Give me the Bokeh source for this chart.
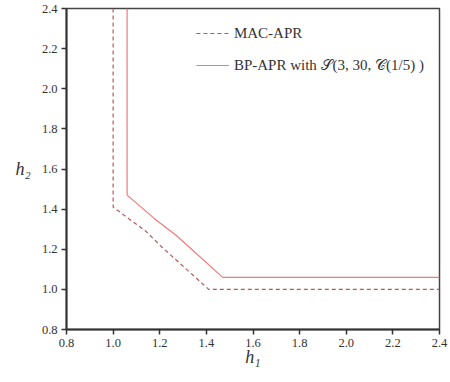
from bokeh.plotting import figure
from bokeh.models import Range1d, FixedTicker, Legend, LegendItem
from bokeh.embed import file_html
from bokeh.resources import INLINE

# Data
mac_h1 = [1.0, 1.0, 1.14, 1.21, 1.41, 2.4]
mac_h2 = [2.4, 1.41, 1.29, 1.21, 1.0, 1.0]
bp_h1 = [1.06, 1.06, 1.18, 1.27, 1.47, 2.4]
bp_h2 = [2.4, 1.47, 1.35, 1.27, 1.06, 1.06]
tick_vals = [0.8, 1.0, 1.2, 1.4, 1.6, 1.8, 2.0, 2.2, 2.4]
tick_labels = ["0.8", "1.0", "1.2", "1.4", "1.6", "1.8", "2.0", "2.2", "2.4"]
label_mac = "MAC-APR"
label_bp = "BP-APR with \U0001D4AE(3, 30, \U0001D49E(1/5) )"

FONT = "Liberation Serif"

p = figure(width=448, height=380, output_backend="svg", toolbar_location=None,
           x_range=Range1d(0.8, 2.4), y_range=Range1d(0.8, 2.4),
           min_border_left=66, min_border_right=9, min_border_top=8, min_border_bottom=51)
p.grid.visible = False
p.outline_line_color = "#444444"
p.outline_line_width = 1.5
p.background_fill_color = "white"
p.border_fill_color = "white"

r1 = p.line(mac_h1, mac_h2, line_color="#b8585c", line_width=1.2, line_dash="4 3")
r2 = p.line(bp_h1, bp_h2, line_color="#f57878", line_width=1.2)

for ax in (p.xaxis[0], p.yaxis[0]):
    ax.ticker = FixedTicker(ticks=tick_vals)
    ax.major_label_overrides = {v: s for v, s in zip(tick_vals, tick_labels)}
    ax.minor_tick_line_color = None
    ax.major_tick_in = 0
    ax.major_tick_out = 5
    ax.major_tick_line_width = 1.5
    ax.major_tick_line_color = "#333333"
    ax.axis_line_width = 2
    ax.axis_line_color = "#333333"
    ax.major_label_text_font = FONT
    ax.major_label_text_font_size = "12.5px"
    ax.major_label_text_color = "#333333"
    ax.major_label_standoff = 4
    ax.axis_label_text_font = FONT
    ax.axis_label_text_font_style = "italic"
    ax.axis_label_text_font_size = "18px"
    ax.axis_label_text_color = "#333333"

p.xaxis[0].axis_label = "h\u2081"
p.yaxis[0].axis_label = "h\u2082"
p.yaxis[0].axis_label_orientation = "horizontal"
p.xaxis[0].axis_label_standoff = -3
p.yaxis[0].axis_label_standoff = 8

legend = Legend(items=[LegendItem(label=label_mac, renderers=[r1]),
                       LegendItem(label=label_bp, renderers=[r2])],
                location="top_right", border_line_color=None,
                background_fill_alpha=0, margin=15, padding=12,
                label_text_font=FONT, label_text_font_size="15px",
                label_text_color="#333333",
                glyph_width=33, glyph_height=20, label_height=20,
                spacing=12, label_standoff=5)
p.add_layout(legend)

open("out.html", "w").write(file_html(p, INLINE))
